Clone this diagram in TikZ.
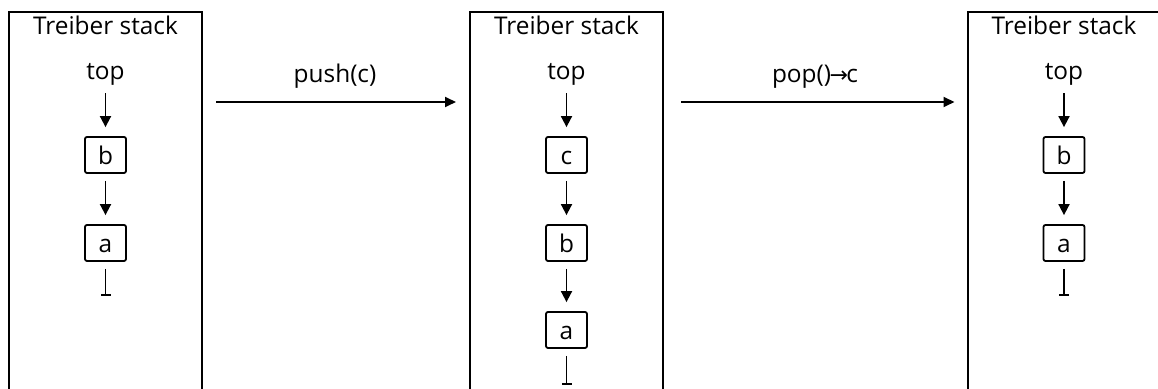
\documentclass[tikz,border=0pt]{standalone}
\usepackage{fontspec}
\setmainfont{Open Sans}
\newfontfamily\symfont{DejaVu Sans}
\usetikzlibrary{calc, positioning, arrows.meta}

\tikzset{
  stackbox/.style={draw, line width=1pt, minimum width=96.5pt, minimum height=200pt, anchor=north, inner sep=0pt},
  title/.style={anchor=base, inner sep=0pt},
  cell/.style={draw, line width=0.9pt, rounded corners=1pt, minimum width=20.5pt, minimum height=18pt,
    inner sep=0pt, text height=10pt, text depth=0pt},
  link/.style={-{Triangle[length=5.5pt,width=5.5pt]}, line width=0.9pt, shorten <=3.5pt, shorten >=4.5pt},
  nil/.style={-{Bar[width=5pt]}, line width=0.9pt, shorten <=3.5pt},
  op/.style={-{Triangle[length=5.5pt,width=5pt]}, line width=0.9pt},
}

\begin{document}
\begin{tikzpicture}[x=0.5pt, y=-0.5pt, font=\fontsize{12.2}{14}\selectfont]
\useasboundingbox (0,0) rectangle (1158,389);
\clip (0,0) rectangle (1158,389);

% Stack before push: top -> b -> a
\node[stackbox] (s1) at (105.5,11) {};
\node[title] (t1) at (105.5,35) {Treiber stack};
\node[title] (top1) at (105.5,80) {top};
\node[cell] (b1) at (105.5,155) {b};
\node[cell] (a1) at (105.5,243) {a};
\coordinate (n1) at (105.5,296);
\draw[link] (top1) -- (b1);
\draw[link] (b1) -- (a1);
\draw[nil] (a1) -- (n1);

% Stack after push: top -> c -> b -> a
\node[stackbox] (s2) at (566.5,11) {};
\node[title] (t2) at (566.5,35) {Treiber stack};
\node[title] (top2) at (566.5,80) {top};
\node[cell] (c2) at (566.5,155) {c};
\node[cell] (b2) at (566.5,243) {b};
\node[cell] (a2) at (566.5,330) {a};
\coordinate (n2) at (566.5,385);
\draw[link] (top2) -- (c2);
\draw[link] (c2) -- (b2);
\draw[link] (b2) -- (a2);
\draw[nil] (a2) -- (n2);

% Stack after pop: top -> b -> a
\node[stackbox] (s3) at (1064,11) {};
\node[title] (t3) at (1064,35) {Treiber stack};
\node[title] (top3) at (1064,80) {top};
\node[cell] (b3) at (1064,155) {b};
\node[cell] (a3) at (1064,243) {a};
\coordinate (n3) at (1064,296);
\draw[link] (top3) -- (b3);
\draw[link] (b3) -- (a3);
\draw[nil] (a3) -- (n3);

% Operations
\coordinate (push1) at ($(s1.north east)+(13,91)$);
\coordinate (push2) at ($(s2.north west)+(-13,91)$);
\coordinate (pop1) at ($(s2.north east)+(17,91)$);
\coordinate (pop2) at ($(s3.north west)+(-12,91)$);
\draw[op] (push1) -- (push2);
\draw[op] (pop1) -- (pop2);
\node[title] (pushlbl) at (335,83) {push(c)};
\node[title] (poplbl) at (815,83) {pop()\kern-0.8pt{\symfont\fontsize{11}{12}\selectfont →}\kern-0.8pt c};
\end{tikzpicture}
\end{document}
